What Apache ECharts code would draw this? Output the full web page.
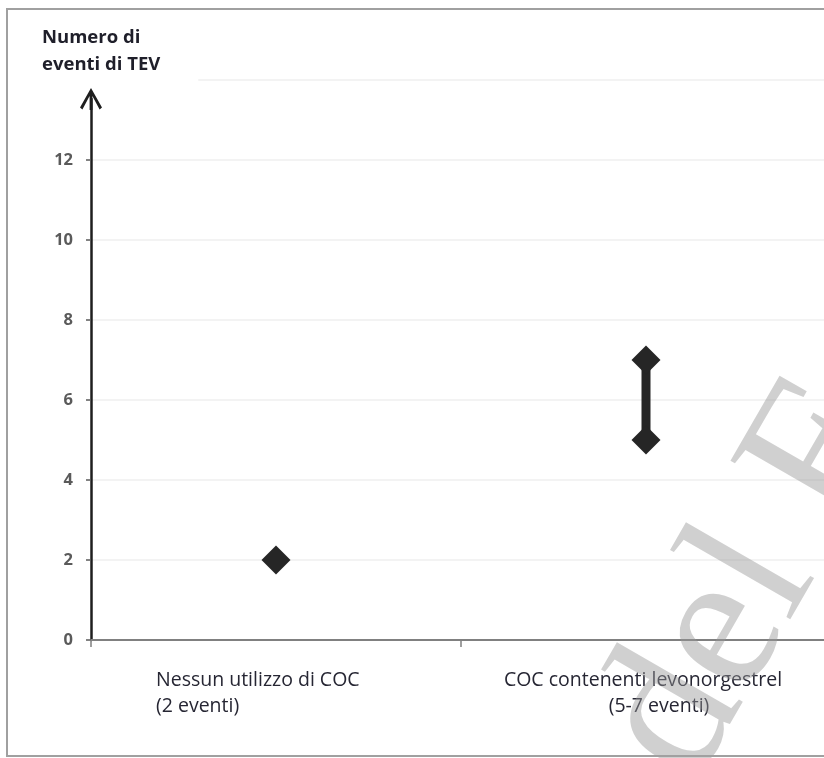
<!DOCTYPE html>
<html>
<head>
<meta charset="utf-8">
<script src="https://cdn.jsdelivr.net/npm/echarts@6/dist/echarts.min.js"></script>
<style>
html,body{margin:0;padding:0;background:#fff;overflow:hidden;width:824px;height:758px;}
#chart{width:870px;height:758px;}
</style>
</head>
<body>
<div id="chart"></div>
<script>
// ---- data ----
const categories = ['Nessun utilizzo di COC\n(2 eventi)', 'COC contenenti levonorgestrel\n(5-7 eventi)'];
const noUseEvents = [2];          // Nessun utilizzo di COC
const levoRange = [5, 7];         // COC contenenti levonorgestrel
const yMin = 0, yMax = 14, yInterval = 2;
const yTitle = 'Numero di\neventi di TEV';
const watermark = 'del F';

const chart = echarts.init(document.getElementById('chart'), null, {renderer: 'canvas'});
const FONT = 'Open Sans';
const arrowPath = 'path://M11,0 L22,19.5 L19.6,21.5 L12.4,8 L12.4,22 L9.6,22 L9.6,8 L2.4,21.5 L0,19.5 Z';
const TXT = '#262633';

const option = {
  backgroundColor: '#fff',
  animation: false,
  title: {
    text: yTitle,
    left: 38, top: 18,
    padding: [6, 38, 5, 4],
    backgroundColor: '#fff',
    textStyle: {fontFamily: FONT, fontSize: 18.5, fontWeight: 'bold', color: '#1f1f2a', lineHeight: 27}
  },
  grid: [
    {left: 91, right: 39, top: 80, bottom: 118},
    {left: 91, right: 39, top: 99, bottom: 118}
  ],
  xAxis: [
    {
      type: 'category', gridIndex: 0, data: categories,
      axisLine: {lineStyle: {color: '#808080', width: 2}},
      axisTick: {show: true, length: 7, lineStyle: {color: '#808080', width: 1.5}},
      axisLabel: {
        interval: 0, margin: 27, fontFamily: FONT, fontSize: 19.5, color: TXT, lineHeight: 26,
        formatter: function (v, i) {
          const lines = v.split('\n');
          if (i === 0) return lines.map(l => '{l|' + l + '}').join('\n');
          return '{c|' + lines[0] + '}\n{d|' + lines[1] + '}';
        },
        rich: {
          l: {width: 240, align: 'left', fontFamily: FONT, fontSize: 19.5, color: TXT, lineHeight: 26},
          c: {align: 'center', fontFamily: FONT, fontSize: 19.5, color: TXT, lineHeight: 26, padding: [0, 6, 0, 0]},
          d: {align: 'center', fontFamily: FONT, fontSize: 19.5, color: TXT, lineHeight: 26, padding: [0, 0, 0, 26]}
        }
      },
      splitLine: {show: false}
    },
    {type: 'value', gridIndex: 1, min: 0, max: 1, show: false}
  ],
  yAxis: [
    {
      type: 'value', gridIndex: 0, min: yMin, max: yMax, interval: yInterval,
      axisLine: {show: false},
      axisTick: {show: true, length: 5, lineStyle: {color: '#595959', width: 1.5}},
      axisLabel: {
        margin: 18, fontFamily: FONT, fontSize: 16.5, fontWeight: 'bold', color: '#5a5a5a',
        formatter: v => (v === yMax ? '' : String(v))
      },
      splitLine: {show: true, lineStyle: {color: '#efefef', width: 1.5}}
    },
    {
      type: 'value', gridIndex: 1, min: 0, max: 1,
      axisLine: {show: true, symbol: ['none', arrowPath], symbolSize: [22, 22],
                 lineStyle: {color: '#1e1e1e', width: 2.5}},
      axisTick: {show: false}, axisLabel: {show: false}, splitLine: {show: false}
    }
  ],
  series: [
    {
      name: 'Nessun utilizzo di COC', type: 'scatter', xAxisIndex: 0, yAxisIndex: 0,
      symbol: 'diamond', symbolSize: 29, itemStyle: {color: '#262626', opacity: 1},
      data: noUseEvents.map(v => [categories[0], v]), z: 5
    },
    {
      name: 'COC contenenti levonorgestrel', type: 'line', xAxisIndex: 0, yAxisIndex: 0,
      symbol: 'diamond', symbolSize: 29, showSymbol: true,
      lineStyle: {color: '#262626', width: 9}, itemStyle: {color: '#262626', opacity: 1},
      data: levoRange.map(v => [categories[1], v]), z: 5
    }
  ],
  graphic: [
    {
      type: 'rect', silent: true, z: 100,
      shape: {x: 7, y: 9, width: 880, height: 747},
      style: {fill: 'none', stroke: '#a0a0a0', lineWidth: 2}
    },
    {
      type: 'text', silent: true, z: 50,
      x: 735, y: 810, rotation: Math.PI * 60 / 180,
      style: {text: watermark, font: '200px "Liberation Serif"', fill: 'rgba(150,150,150,0.45)', textAlign: 'left', textVerticalAlign: 'bottom'}
    }
  ]
};
chart.setOption(option);
</script>
</body>
</html>
